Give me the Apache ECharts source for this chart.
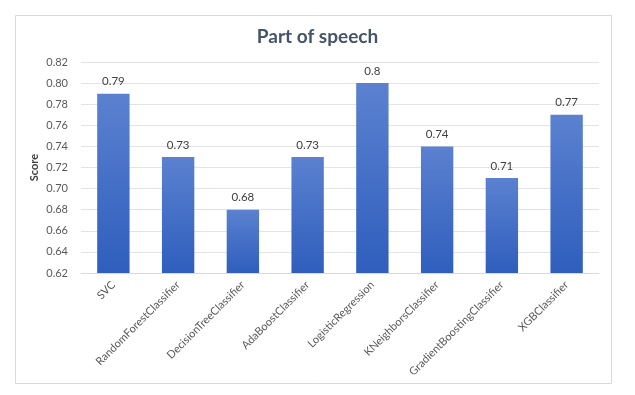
<!DOCTYPE html>
<html><head><meta charset="utf-8">
<script src="https://cdn.jsdelivr.net/npm/echarts@6/dist/echarts.min.js"></script>
<style>html,body{margin:0;padding:0;background:#fff}#c{width:635px;height:395px}</style>
</head><body><div id="c"></div>
<script>
const categories = ['SVC','RandomForestClassifier','DecisionTreeClassifier','AdaBoostClassifier','LogisticRegression','KNeighborsClassifier','GradientBoostingClassifier','XGBClassifier'];
const scores = [0.79, 0.73, 0.68, 0.73, 0.8, 0.74, 0.71, 0.77];
const yMin = 0.62, yMax = 0.82, yStep = 0.02;

const chart = echarts.init(document.getElementById('c'));
const F = 'Lato, "Open Sans", sans-serif';
chart.setOption({
  animation: false,
  graphic: [{type:'rect', shape:{x:15.5,y:15.5,width:596,height:368}, style:{fill:'none', stroke:'#d9d9d9', lineWidth:1}}],
  title: {text:'Part of speech', left:'center', top:22, textStyle:{fontFamily:F, fontSize:19, fontWeight:'bold', color:'#44546a'}},
  grid: {left:81, right:36, top:62, bottom:122},
  xAxis: {type:'category', data:categories,
    axisLine:{lineStyle:{color:'#d9d9d9'}}, axisTick:{show:false},
    axisLabel:{rotate:45, interval:0, fontFamily:F, fontSize:11, color:'#595959', margin:10}},
  yAxis: {type:'value', min:yMin, max:yMax, interval:yStep,
    name:'Score', nameLocation:'middle', nameGap:41, nameRotate:90, nameMoveOverlap:false,
    nameTextStyle:{fontFamily:F, fontSize:11, fontWeight:'bold', color:'#404040'},
    axisLine:{show:false}, axisTick:{show:false},
    splitLine:{lineStyle:{color:'#e3e3e3'}},
    axisLabel:{fontFamily:F, fontSize:11, color:'#595959', margin:13, formatter:v=>v.toFixed(2)}},
  series: [{type:'bar', data:scores, barWidth:'50%',
    itemStyle:{color:new echarts.graphic.LinearGradient(0,0,0,1,[{offset:0,color:'#5b81d0'},{offset:1,color:'#2f5ebd'}])},
    label:{show:true, position:'top', distance:6, fontFamily:F, fontSize:11.5, color:'#404040', formatter:p=>String(p.value)}}]
});
</script></body></html>
